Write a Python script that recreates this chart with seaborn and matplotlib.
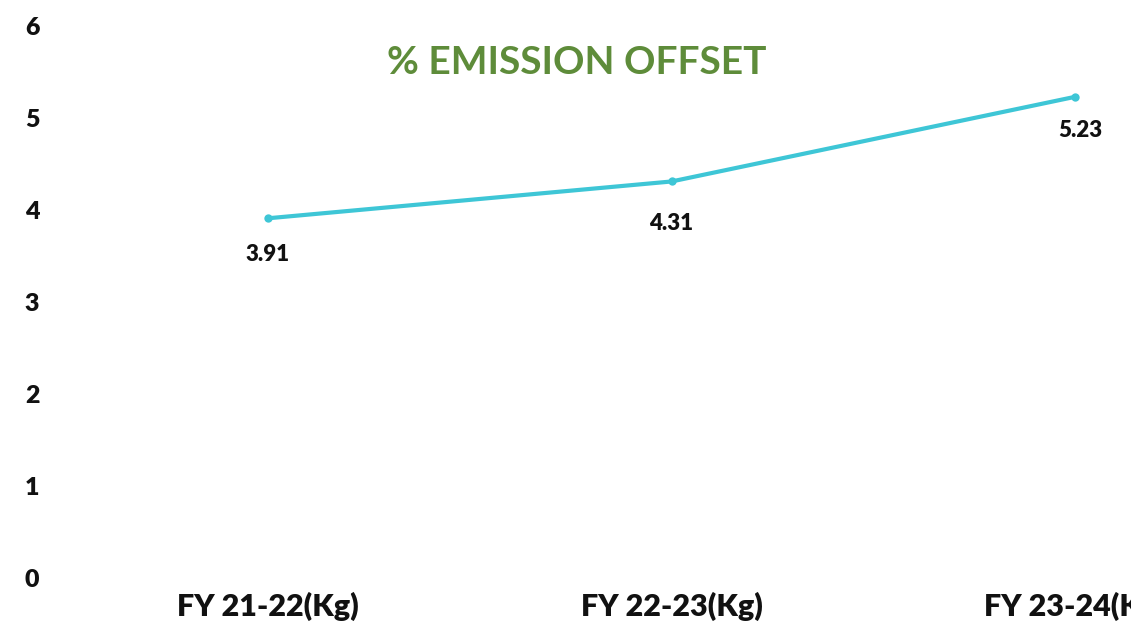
import pandas as pd
import numpy as np
import matplotlib
matplotlib.use("Agg")
import matplotlib.pyplot as plt
import seaborn as sns

# data
years = ["FY 21-22(Kg)", "FY 22-23(Kg)", "FY 23-24(Kg)"]
offset_pct = [3.91, 4.31, 5.23]
y_ticks = [0, 1, 2, 3, 4, 5, 6]

df = pd.DataFrame({"year": years, "offset": offset_pct})
df["pos"] = np.arange(len(df))

sns.set_theme(style="white")
plt.rcParams["font.family"] = ["Lato", "DejaVu Sans"]

fig = plt.figure(figsize=(11.31, 6.32), dpi=100)
ax = fig.add_axes([70 / 1131, 54 / 632, 1061 / 1131, 552 / 632])

sns.lineplot(data=df, x="pos", y="offset", ax=ax, color="#3EC6D6",
             linewidth=3, marker="o", markersize=6, markeredgewidth=0,
             clip_on=False)

# value labels under the points
offsets = [(0, -36), (0, -42), (5, -34)]
for (x, y), (dx, dy) in zip(zip(df["pos"], df["offset"]), offsets):
    ax.annotate(f"{y:.2f}", (x, y), xytext=(dx * 0.72, dy * 0.72),
                textcoords="offset points", ha="center", va="center",
                fontsize=16, fontweight="heavy", color="#111111")

ax.set_xlim(-198 / 403.5, 863 / 403.5)
ax.set_ylim(0, 6)
ax.set_xticks(df["pos"])
ax.set_xticklabels(years, fontsize=22, fontweight="heavy", color="#111111")
ax.set_yticks(y_ticks)
ax.set_yticklabels([str(t) for t in y_ticks], fontsize=18,
                   fontweight="heavy", color="#111111")
ax.tick_params(axis="x", length=0, pad=10)
ax.tick_params(axis="y", length=0, pad=22)
ax.set_xlabel("")
ax.set_ylabel("")
sns.despine(ax=ax, left=True, bottom=True)
ax.grid(False)

fig.text(577 / 1131, 1 - 62 / 632, "% EMISSION OFFSET", ha="center",
         va="center", fontsize=28, fontweight="bold", color="#5E8C3A")

fig.savefig("out.png", dpi=100)
